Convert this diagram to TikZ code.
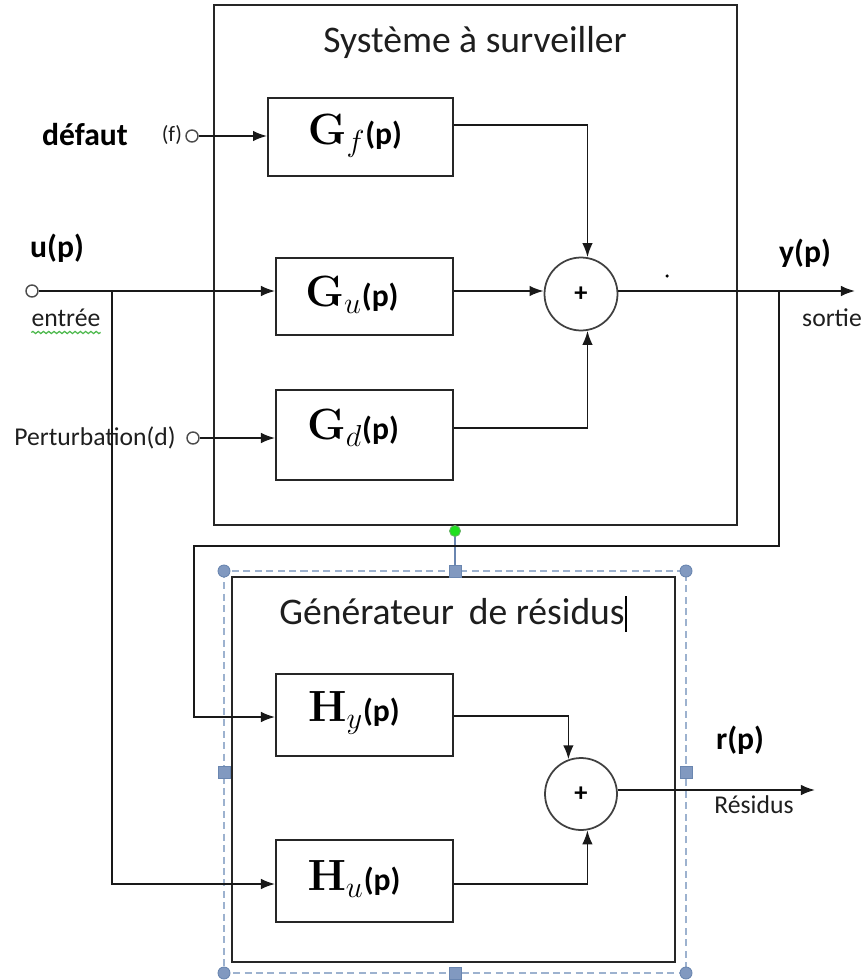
\documentclass[tikz,border=0pt]{standalone}
\usepackage[no-math]{fontspec}
\setmainfont{Carlito}
\usetikzlibrary{arrows.meta,decorations.pathmorphing}
\definecolor{txt}{HTML}{1E1E1E}
\definecolor{selline}{HTML}{9DB2CF}
\definecolor{selfill}{HTML}{8199C0}
\definecolor{seldraw}{HTML}{6A86B0}
\definecolor{rotgreen}{HTML}{1EE01E}
\begin{document}
\begin{tikzpicture}[x=0.02cm,y=-0.02cm,
  blk/.style={draw=black!85,line width=1.1pt,inner sep=0pt},
  frame/.style={draw=black!85,line width=1.2pt,inner sep=0pt},
  sumc/.style={circle,draw=black!75,line width=1pt,minimum size=1.46cm,inner sep=0pt,font=\bfseries\fontsize{15}{17}\selectfont},
  port/.style={circle,draw=black!70,line width=0.8pt,minimum size=0.24cm,inner sep=0pt,fill=white},
  arr/.style={line width=1pt,draw=black!90,-{Latex[length=8pt,width=6pt]}},
  bl/.style={inner sep=0pt,font=\bfseries\fontsize{18}{21}\selectfont,text=black},
  sm/.style={inner sep=0pt,font=\fontsize{14.6}{17}\selectfont,text=txt},
  ttl/.style={inner sep=0pt,font=\fontsize{21.4}{25}\selectfont,text=txt},
  gl/.style={inner sep=0pt,font=\fontsize{23}{27}\selectfont},
  selh/.style={circle,fill=selfill,draw=seldraw,line width=0.5pt,minimum size=0.24cm,inner sep=0pt},
  sels/.style={rectangle,fill=selfill,draw=seldraw,line width=0.5pt,minimum size=0.24cm,inner sep=0pt}]
\useasboundingbox (0,0) rectangle (867,980);

% ---------- upper system ----------
\node[frame,minimum width=10.46cm,minimum height=10.4cm] (sys) at (475.5,265) {};
\node[ttl] (systitle) at (475,42) {Système à surveiller};

\node[blk,minimum width=3.70cm,minimum height=1.56cm] (gf) at (360.5,137) {};
\node[blk,minimum width=3.54cm,minimum height=1.54cm] (gu) at (364.5,296.5) {};
\node[blk,minimum width=3.54cm,minimum height=1.80cm] (gd) at (364.5,435) {};
\node[gl] (gft) at (355,136) {$\mathbf{G}_{f}$\textbf{\fontsize{18}{21}\selectfont(p)}};
\node[gl] (gut) at (352,295) {$\mathbf{G}_{u}$\textbf{\fontsize{18}{21}\selectfont(p)}};
\node[gl] (gdt) at (353,428) {$\mathbf{G}_{d}$\textbf{\fontsize{18}{21}\selectfont(p)}};

\node[sumc] (s1) at (581,294) {+};

% inputs
\node[port] (fin) at (192,136) {};
\node[bl] (defaut) at (85,135) {défaut};
\node[inner sep=0pt,font=\fontsize{12.5}{15}\selectfont,text=txt] (flab) at (172,135) {(f)};

\node[port] (uin) at (32,291) {};
\node[bl] (ulab) at (57,248) {u(p)};
\node[sm] (entree) at (66,318) {entrée};
\draw[green!60!black!70,line width=0.7pt,decorate,decoration={snake,amplitude=0.6pt,segment length=3pt}]
  ([yshift=-3pt]entree.south west) -- ([yshift=-3pt]entree.south east);

\node[port] (din) at (193,438) {};
\node[sm] (pert) at (95,438) {Perturbation(d)};

\coordinate (ub) at (112,291);
\coordinate (fb) at (779,291);
\coordinate (yout) at (855,291);
\coordinate (fbc) at (194,546);

\draw[arr] (fin) -- (fin -| gf.west);
\draw[arr] (uin) -- (uin -| gu.west);
\draw[arr] (din) -- (din -| gd.west);

\draw[arr] ([yshift=0.24cm]gf.east) -| (s1.80);
\draw[arr] (gu.east |- uin) -- (uin -| s1.west);
\draw[arr] ([yshift=0.14cm]gd.east) -| (s1.-80);
\draw[arr] (uin -| s1.east) -- (yout);

\node[bl] (ylab) at (805,253) {y(p)};
\node[sm] (sortie) at (832,318) {sortie};
\fill[black] (667,276) circle (1pt);

% ---------- selection frame ----------
\draw[selline,line width=0.9pt,dash pattern=on 4pt off 2.5pt] (224,571) rectangle (686,973);
\draw[seldraw,line width=1.2pt] (455,531) -- (455,571);

% ---------- residual generator ----------
\node[frame,minimum width=8.86cm,minimum height=7.7cm] (gen) at (453.5,769.5) {};
\node[ttl] (gentitle) at (452,612) {Générateur\, de résidus};
\draw[black,line width=1.6pt] (626,596) -- (626,632);

\node[blk,minimum width=3.54cm,minimum height=1.64cm] (hy) at (364.5,715) {};
\node[blk,minimum width=3.54cm,minimum height=1.64cm] (hu) at (364.5,881) {};
\node[gl] (hyt) at (354,713) {$\mathbf{H}_{y}$\textbf{\fontsize{18}{21}\selectfont(p)}};
\node[gl] (hut) at (354,879) {$\mathbf{H}_{u}$\textbf{\fontsize{18}{21}\selectfont(p)}};

\node[sumc,minimum size=1.44cm] (s2) at (581,794) {+};

\coordinate (rout) at (815,790);
\draw[arr] (ub) |- ([yshift=-0.06cm]hu.west);
\draw[arr] (fb) |- (fbc) |- ([yshift=-0.04cm]hy.west);
\draw[arr] ([yshift=-0.02cm]hy.east) -| (s2.110);
\draw[arr] ([yshift=-0.06cm]hu.east) -| (s2.-80);
\draw[arr] (s2.east |- rout) -- (rout);

\node[bl] (rlab) at (740,740) {r(p)};
\node[sm] (resid) at (754,805) {Résidus};

% selection handles
\node[selh] (h1) at (224,571) {};
\node[selh] (h2) at (686,571) {};
\node[selh] (h3) at (224,973) {};
\node[selh] (h4) at (686,973) {};
\node[sels] (q1) at (455,571) {};
\node[sels] (q2) at (455,973) {};
\node[sels] (q3) at (224,772) {};
\node[sels] (q4) at (686,772) {};
\node[circle,fill=rotgreen,draw=green!50!black!60,line width=0.5pt,minimum size=0.22cm,inner sep=0pt] (rot) at (455,531) {};
\end{tikzpicture}
\end{document}
